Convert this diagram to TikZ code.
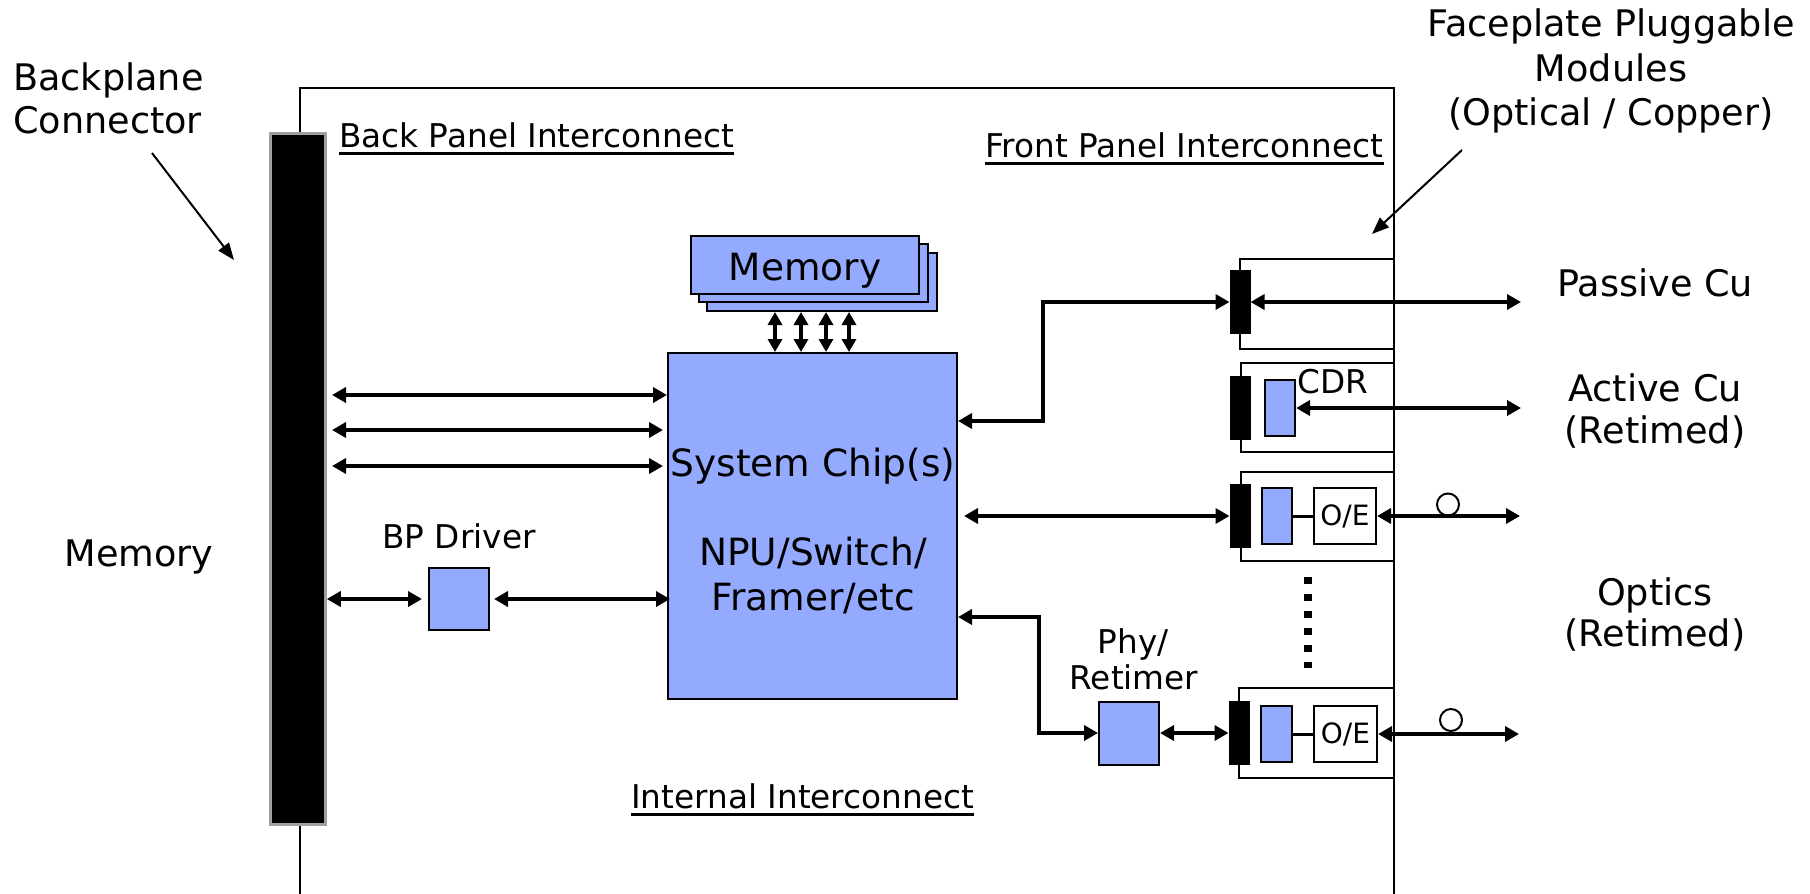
\documentclass[tikz,border=0pt]{standalone}
\usepackage{fontspec}
\setmainfont{DejaVu Sans}
\usetikzlibrary{arrows.meta}
\definecolor{chipblue}{RGB}{148,170,255}
\definecolor{bargray}{RGB}{160,160,160}
\begin{document}
\begin{tikzpicture}[x=1pt,y=-1pt,
  big/.style={font=\fontsize{36.6}{43}\selectfont, inner sep=0},
  med/.style={font=\fontsize{32.7}{38}\selectfont, inner sep=0},
  chiptxt/.style={font=\fontsize{37.5}{44}\selectfont, inner sep=0},
  oetxt/.style={font=\fontsize{28}{33}\selectfont, inner sep=0},
  bluebox/.style={draw=black, fill=chipblue, line width=2pt, inner sep=0},
  conbox/.style={draw=black, fill=black, line width=1pt, minimum width=20, minimum height=63, inner sep=0},
  oebox/.style={draw=black, fill=white, line width=2pt, inner sep=0, minimum width=62, minimum height=56},
  modbox/.style={draw=black, line width=2pt},
  dbl/.style={line width=3.5pt, {Triangle[length=14pt,width=15pt]}-{Triangle[length=14pt,width=15pt]}},
  thinarrow/.style={line width=2pt, -{Triangle[length=17pt,width=13pt]}},
  uline/.style={line width=3pt},
]
\useasboundingbox (0,0) rectangle (1810,894);

% frame
\draw[line width=2pt] (300,894) -- (300,88) -- (1394,88) -- (1394,894);

% backplane connector bar
\node[draw=bargray, fill=black, line width=2.5pt, minimum width=55, minimum height=691, inner sep=0] (bar) at (298,479) {};

% labels left
\node[big, anchor=base west] (bpl1) at (13,90) {Backplane};
\node[big, anchor=base west] (bpl2) at (13,133) {Connector};
\coordinate (bca) at (152,153);
\coordinate (bcb) at (234,260);
\draw[thinarrow] (bca) -- (bcb);
\node[big, anchor=base] (memleft) at (139,566) {Memory};

% interconnect labels
\node[med, anchor=base west] (bpi) at (339,147) {Back Panel Interconnect};
\draw[uline] ([yshift=-6pt]bpi.base west) -- ([yshift=-6pt]bpi.base east);
\node[med, anchor=base west] (fpi) at (985,157) {Front Panel Interconnect};
\draw[uline] ([yshift=-6pt]fpi.base west) -- ([yshift=-6pt]fpi.base east);
\node[med, anchor=base west] (ii) at (631,808) {Internal Interconnect};
\draw[uline] ([yshift=-6pt]ii.base west) -- ([yshift=-6pt]ii.base east);

% faceplate label
\node[big, anchor=base] (fp1) at (1611,36) {Faceplate Pluggable};
\node[big, anchor=base] (fp2) at (1611,81) {Modules};
\node[big, anchor=base] (fp3) at (1611,125) {(Optical / Copper)};
\coordinate (fpa) at (1462,150);
\coordinate (fpb) at (1372,234);
\draw[thinarrow] (fpa) -- (fpb);

% memory stack
\node[bluebox, minimum width=230, minimum height=58] (mem3) at (822,282) {};
\node[bluebox, minimum width=229, minimum height=58] (mem2) at (813.5,273) {};
\node[bluebox, minimum width=228, minimum height=58] (mem1) at (805,265) {};
\node[chiptxt, anchor=base] (memtxt) at (mem1.center |- 0,280) {Memory};

% system chip
\node[bluebox, minimum width=289, minimum height=346] (chip) at (812.5,526) {};
\node[chiptxt, anchor=base] (ct1) at (813,476) {System Chip(s)};
\node[chiptxt, anchor=base] (ct2) at (813,565) {NPU/Switch/};
\node[chiptxt, anchor=base] (ct3) at (813,610) {Framer/etc};

% memory arrows
\foreach \mx in {775,801,826,849}
  \draw[dbl, {Triangle[length=13pt,width=14pt]}-{Triangle[length=13pt,width=14pt]}] (mem3.south -| \mx,0) -- (chip.north -| \mx,0);

% back panel arrows
\coordinate (bpx) at (332,0);
\draw[dbl] (bpx |- 0,395) -- (chip.west |- 0,395);
\draw[dbl] (bpx |- 0,430) -- ([xshift=-4pt]chip.west |- 0,430);
\draw[dbl] (bpx |- 0,466) -- ([xshift=-4pt]chip.west |- 0,466);

% BP driver
\node[bluebox, minimum width=60, minimum height=62] (bp) at (459,599) {};
\node[med, anchor=base] (bplab) at (459,548) {BP Driver};
\draw[dbl, shorten >=6pt] (bar.east |- bp) -- (bp.west);
\draw[dbl, shorten <=4pt] (bp.east) -- ([xshift=3pt]chip.west |- bp);

% modules
\draw[modbox] (1240,259) rectangle (1394,349);
\draw[modbox] (1241,363) rectangle (1394,452);
\draw[modbox] (1241,472) rectangle (1394,561);
\draw[modbox] (1239,688) rectangle (1394,778);

% connectors on modules
\node[conbox] (conn1) at (1240,302) {};
\node[conbox] (conn2) at (1240,408) {};
\node[conbox] (conn3) at (1240,516) {};
\node[conbox] (conn4) at (1239,733) {};

% passive Cu
\coordinate (pce) at (1521,302);
\draw[dbl] (chip.east |- 0,421) -- (1043,421) |- (conn1.west);
\draw[dbl] (conn1.east) -- (pce);
\node[big, anchor=base] (pcl) at (1655,296) {Passive Cu};

% active Cu
\node[bluebox, minimum width=30, minimum height=56] (cdr) at (1280,408) {};
\node[med, anchor=base west] (cdrl) at (1297,393) {CDR};
\coordinate (ace) at (1521,408);
\draw[dbl] (cdr.east) -- (ace);
\node[big, anchor=base] (acl1) at (1655,401) {Active Cu};
\node[big, anchor=base] (acl2) at (1655,443) {(Retimed)};

% optics 1
\node[bluebox, minimum width=30, minimum height=56] (o1) at (1277,516) {};
\node[oebox] (oe1) at (1345,516) {};
\node[oetxt] at (oe1) {O/E};
\draw[line width=3pt] (o1.east) -- (oe1.west);
\coordinate (o1e) at (1520,516);
\draw[dbl] (oe1.east) -- (o1e);
\draw[line width=2pt] (1448,504.5) circle[radius=11];
\draw[dbl, shorten <=6pt] (chip.east |- conn3) -- (conn3.west);

% dots
\draw[line width=8pt, dash pattern=on 7pt off 10pt] (1308,577) -- (1308,668);

% optics 2
\node[bluebox, minimum width=31, minimum height=56] (o2) at (1276.5,734) {};
\node[oebox, minimum width=63] (oe2) at (1345.5,734) {};
\node[oetxt] at (oe2) {O/E};
\draw[line width=3pt] (o2.east) -- (oe2.west);
\coordinate (o2e) at (1519,734);
\draw[dbl] (oe2.east) -- (o2e);
\draw[line width=2pt] (1451,720) circle[radius=11];

% phy / retimer
\node[bluebox, minimum width=60, minimum height=63] (phy) at (1129,733) {};
\node[med, anchor=base] (phyl1) at (1133,653) {Phy/};
\node[med, anchor=base] (phyl2) at (1134,689) {Retimer};
\draw[dbl] (chip.east |- 0,617) -- (1039,617) |- (phy.west);
\draw[dbl] (phy.east) -- (conn4.west);

\node[big, anchor=base] (opl1) at (1655,605) {Optics};
\node[big, anchor=base] (opl2) at (1655,646) {(Retimed)};
\end{tikzpicture}
\end{document}
